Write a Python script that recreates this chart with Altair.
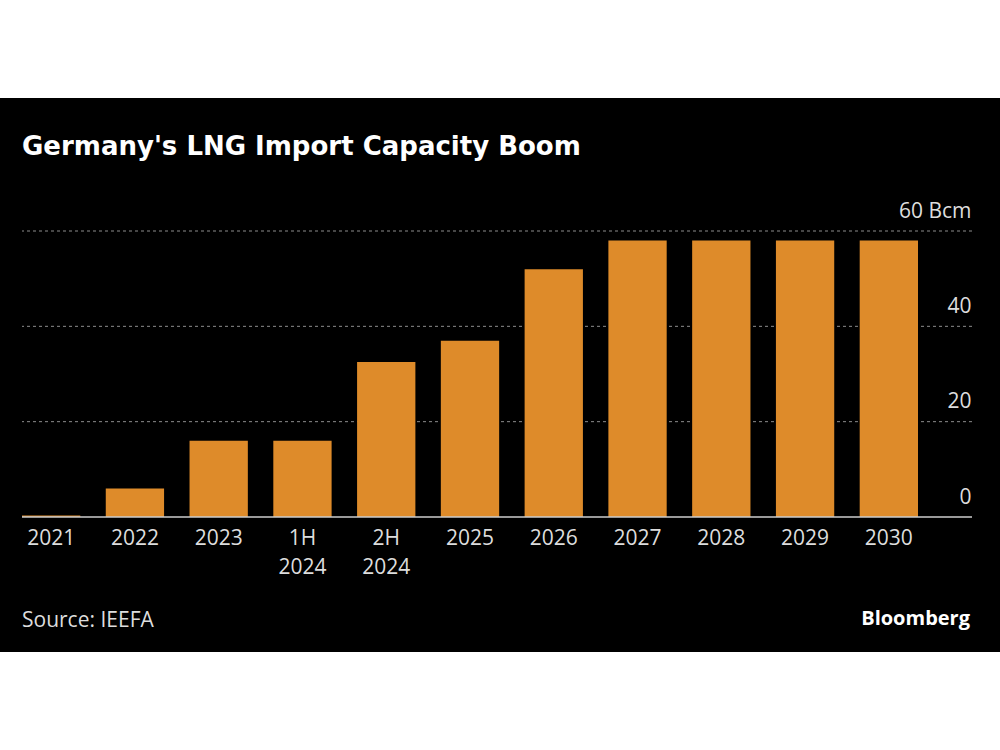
import altair as alt
import pandas as pd

categories = ["2021", "2022", "2023", "1H 2024", "2H 2024", "2025", "2026", "2027", "2028", "2029", "2030"]
capacity_bcm = [0.3, 6, 16, 16, 32.5, 37, 52, 58, 58, 58, 58]
grid_values = [20, 40, 60]
baseline_value = [0]
y_ticks = [0, 20, 40, 60]

title_text = "Germany's LNG Import Capacity Boom"
source_text = ["Source: IEEFA"]
brand_text = ["Bloomberg"]

bars_df = pd.DataFrame({"cat": categories, "val": capacity_bcm})
grid_df = pd.DataFrame({"v": grid_values})
base_df = pd.DataFrame({"v": baseline_value})

W, H = 950, 286
PAD = {"left": 22, "top": 231, "right": 28, "bottom": 233}

bg = alt.Chart(pd.DataFrame({"a": [1]})).mark_rect(color="#000000").encode(
    x=alt.value(-22), x2=alt.value(978), y=alt.value(-133), y2=alt.value(421)
)

yscale = alt.Scale(domain=[0, 60], nice=False)

y_axis = alt.Axis(
    orient="right",
    title=None,
    values=y_ticks,
    labelExpr="datum.value == 60 ? '60 Bcm' : datum.label",
    labelAlign="right",
    labelBaseline="alphabetic",
    labelOffset=-14,
    labelPadding=-1,
    labelFlush=False,
    labelColor="#dddddd",
    labelFont="Open Sans",
    labelFontSize=21,
    ticks=False,
    domain=False,
    grid=False,
    zindex=1,
)

grid = alt.Chart(grid_df).mark_rule(color="#8c8c8c", strokeDash=[3, 3], strokeWidth=1).encode(
    y=alt.Y("v:Q", scale=yscale, axis=y_axis)
)

bars = alt.Chart(bars_df).mark_bar(color="#DE8B2A").encode(
    x=alt.X(
        "cat:N",
        sort=categories,
        scale=alt.Scale(range=[0, 896], paddingInner=0.304, paddingOuter=0),
        axis=alt.Axis(
            title=None,
            labelAngle=0,
            labelExpr="split(datum.label, ' ')",
            labelLineHeight=29,
            labelPadding=10,
            labelBaseline="top",
            labelColor="#dddddd",
            labelFont="Open Sans",
            labelFontSize=21,
            ticks=False,
            domain=False,
            grid=False,
            zindex=1,
        ),
    ),
    y=alt.Y("val:Q", scale=yscale, axis=y_axis),
)

base = alt.Chart(base_df).mark_rule(color="#cccccc", strokeWidth=1.5).encode(
    y=alt.Y("v:Q", scale=yscale, axis=y_axis)
)

source = alt.Chart(pd.DataFrame({"t": source_text})).mark_text(
    align="left", baseline="alphabetic", font="Open Sans", fontSize=21, color="#dddddd"
).encode(x=alt.value(0), y=alt.value(396), text="t:N")

brand = alt.Chart(pd.DataFrame({"t": brand_text})).mark_text(
    align="right", baseline="alphabetic", font="Open Sans", fontSize=20, fontWeight="bold", color="#ffffff"
).encode(x=alt.value(948), y=alt.value(394), text="t:N")

chart = alt.layer(bg, grid, bars, base, source, brand).properties(
    width=W,
    height=H,
    padding=PAD,
    autosize="none",
    background="#ffffff",
    title=alt.Title(
        title_text,
        anchor="start",
        frame="group",
        font="DejaVu Sans",
        fontWeight="bold",
        fontSize=26,
        color="#ffffff",
        baseline="alphabetic",
        offset=0,
        dy=83,
    ),
).configure_view(strokeOpacity=0)

chart.save("out.html", embed_options={"renderer": "svg", "actions": False})
